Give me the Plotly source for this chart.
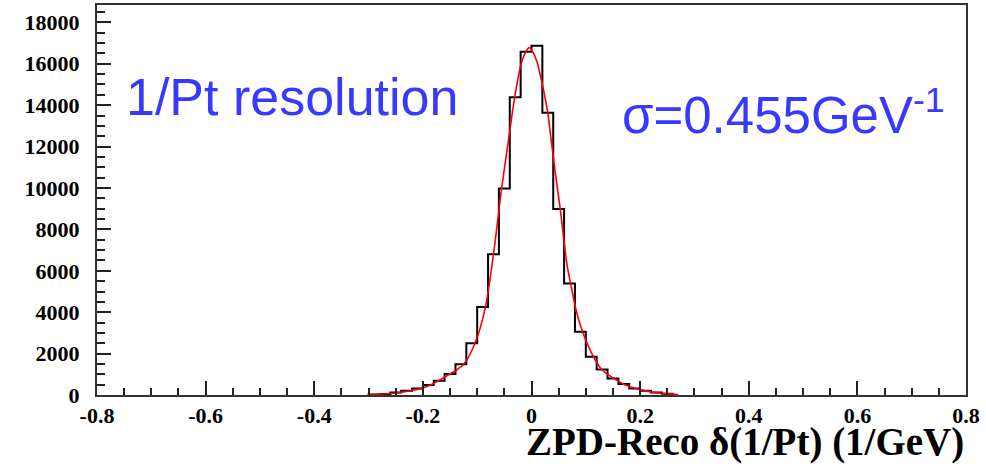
import plotly.graph_objects as go

# Histogram: bin left edges (1/GeV) and counts
bin_width = 0.02
bin_left = [-0.30, -0.28, -0.26, -0.24, -0.22, -0.20, -0.18, -0.16, -0.14, -0.12,
            -0.10, -0.08, -0.06, -0.04, -0.02, 0.00, 0.02, 0.04, 0.06, 0.08,
            0.10, 0.12, 0.14, 0.16, 0.18, 0.20, 0.22, 0.24]
counts = [20, 50, 120, 210, 320, 480, 690, 1010, 1480, 2500,
          4250, 6800, 9980, 14380, 16580, 16870, 13640, 8980, 5390, 3050,
          1850, 1230, 800, 530, 320, 200, 120, 60]

# Fit curve (red)
fit_x = [-0.30, -0.28, -0.26, -0.24, -0.22, -0.20, -0.18, -0.16, -0.14, -0.125,
         -0.104, -0.085, -0.070, -0.055, -0.043, -0.031, -0.019, -0.010, -0.004,
         0.004, 0.010, 0.017, 0.030, 0.034, 0.043, 0.053, 0.065, 0.072, 0.083,
         0.094, 0.114, 0.129, 0.151, 0.170, 0.19, 0.21, 0.23, 0.25, 0.27]
fit_y = [15, 35, 70, 130, 220, 340, 560, 860, 1170, 1480,
         2500, 4220, 6800, 9980, 12200, 14380, 16000, 16600, 16780,
         16500, 16100, 15370, 13630, 12800, 10900, 8970, 6360, 5390, 4000,
         3060, 1850, 1240, 800, 520, 330, 200, 110, 55, 20]

x_ticks = [-0.8, -0.6, -0.4, -0.2, 0, 0.2, 0.4, 0.6, 0.8]
x_tick_text = ["-0.8", "-0.6", "-0.4", "-0.2", "0", "0.2", "0.4", "0.6", "0.8"]
y_ticks = [0, 2000, 4000, 6000, 8000, 10000, 12000, 14000, 16000, 18000]
y_tick_text = ["0", "2000", "4000", "6000", "8000", "10000", "12000", "14000", "16000", "18000"]

# step outline built from bins
step_x = bin_left + [bin_left[-1] + bin_width]
step_y = counts + [counts[-1]]
hist_x = [step_x[0]] + step_x + [step_x[-1]]
hist_y = [0] + step_y + [0]

fig = go.Figure()
fig.add_trace(go.Scatter(x=hist_x, y=hist_y, mode="lines",
                         line=dict(color="black", width=2, shape="hv"),
                         hoverinfo="skip", showlegend=False))
fig.add_trace(go.Scatter(x=fit_x, y=fit_y, mode="lines",
                         line=dict(color="#ff0000", width=1.6, shape="spline", smoothing=0.8),
                         showlegend=False))

tick_font = dict(family="Liberation Serif", size=22, color="black", weight="bold")
fig.update_xaxes(range=[-0.8, 0.8], tickvals=x_ticks, ticktext=x_tick_text,
                 ticks="inside", ticklen=14, tickwidth=1.5, tickcolor="#222",
                 minor=dict(ticks="inside", ticklen=7, dtick=0.05, tickwidth=1.5, tickcolor="#222"),
                 showline=True, linecolor="#333", linewidth=2, mirror=True,
                 showgrid=False, zeroline=False, tickfont=tick_font,
                 ticklabelstandoff=0, automargin=False)
fig.update_yaxes(range=[0, 18840], tickvals=y_ticks, ticktext=y_tick_text,
                 ticks="inside", ticklen=14, tickwidth=1.5, tickcolor="#222",
                 minor=dict(ticks="inside", ticklen=8, dtick=500, tickwidth=1.5, tickcolor="#222"),
                 showline=True, linecolor="#333", linewidth=2, mirror=True,
                 showgrid=False, zeroline=False, tickfont=tick_font,
                 ticklabelstandoff=11, automargin=False)

blue = "#3838ff"
fig.add_annotation(x=-0.75, y=14400, xref="x", yref="y", text="1/Pt resolution",
                   showarrow=False, xanchor="left", yanchor="middle",
                   font=dict(family="Liberation Sans", size=52, color=blue))
fig.add_annotation(x=0.163, y=13650, xref="x", yref="y", text="σ=0.455GeV<sup>-1</sup>",
                   showarrow=False, xanchor="left", yanchor="middle",
                   font=dict(family="Liberation Sans", size=51, color=blue))
fig.add_annotation(x=1.0, y=-0.182, xref="paper", yref="paper",
                   text="ZPD-Reco δ(1/Pt) (1/GeV)", showarrow=False,
                   xanchor="right", yanchor="bottom",
                   font=dict(family="Liberation Serif", size=39, color="black", weight="bold"))

fig.update_layout(width=986, height=467, plot_bgcolor="white", paper_bgcolor="white",
                  margin=dict(l=97, r=20, t=5, b=72))
fig.write_html("out.html", config={"displayModeBar": False},
               post_script="document.body.style.margin='0';document.body.style.overflow='hidden';")
